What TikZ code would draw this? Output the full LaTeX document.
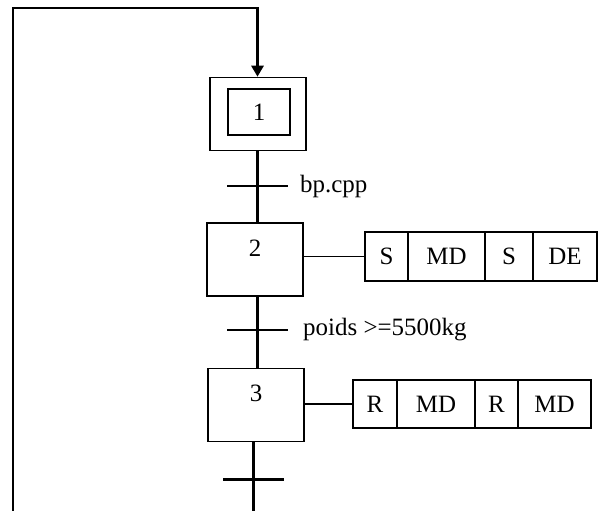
\documentclass[tikz,border=0pt]{standalone}
\usepackage{fontspec}
\setmainfont{Liberation Serif}
\usetikzlibrary{arrows.meta}
\tikzset{
  etape/.style={draw,line width=0.9pt,minimum width=1.93cm,minimum height=1.46cm,inner sep=0pt},
  cellule/.style={draw,line width=0.9pt,minimum height=0.97cm,inner sep=0pt},
  recept/.style={minimum width=1.2cm,inner sep=0pt},
  liaison/.style={line width=1.7pt},
  txt/.style={font=\fontsize{14.2}{16}\selectfont}
}

\begin{document}
\begin{tikzpicture}[x=0.02cm,y=-0.02cm,txt]
\useasboundingbox (0,0) rectangle (601,510);
\node[etape] (e1) at (258,114) {};
\node[etape,minimum width=1.25cm,minimum height=0.93cm] (e1i) at (259,112) {1};
\node[recept] (t1) at (257.5,186) {};
\node[right] (c1) at (294,186) {bp.cpp};
\node[etape] (e2) at (255,259.5) {};
\node (n2) at (255,248) {2};
\node[cellule,minimum width=0.86cm] (a21) at (386.5,256.5) {S};
\node[cellule,minimum width=1.54cm] (a22) at (446.5,256.5) {MD};
\node[cellule,minimum width=0.96cm] (a23) at (509,256.5) {S};
\node[cellule,minimum width=1.28cm] (a24) at (565,256.5) {DE};
\node[recept] (t2) at (257.5,330) {};
\node[right] (c2) at (297,330) {poids >=5500kg};
\node[etape] (e3) at (256,405) {};
\node (n3) at (256,393) {3};
\node[cellule,minimum width=0.88cm] (a31) at (375,404) {R};
\node[cellule,minimum width=1.56cm] (a32) at (436,404) {MD};
\node[cellule,minimum width=0.86cm] (a33) at (496.5,404) {R};
\node[cellule,minimum width=1.46cm] (a34) at (554.5,404) {MD};
\node[recept] (t3) at (253.5,479) {};
\coordinate (bg) at (13,512);
\coordinate (hg) at (13,8);
\draw[liaison] (t1.west) -- (t1.east);
\draw[liaison] (t2.west) -- (t2.east);
\draw[liaison] (t3.west) -- (t3.east);
\draw[liaison] (e1.south -| t1) -- (e2.north -| t1);
\draw[liaison] (e2.south -| t2) -- (e3.north -| t2);
\draw[liaison] (e3.south -| t3) -- (t3 |- bg) -- (bg) -- (hg) -- (hg -| t1)
  -- (e1.north -| t1) [-{Triangle[length=0.22cm,width=0.24cm]}];
\draw[line width=0.9pt] (e2.east |- a21) -- (a21.west);
\draw[line width=0.9pt] (e3.east |- a31) -- (a31.west);
\end{tikzpicture}
\end{document}
